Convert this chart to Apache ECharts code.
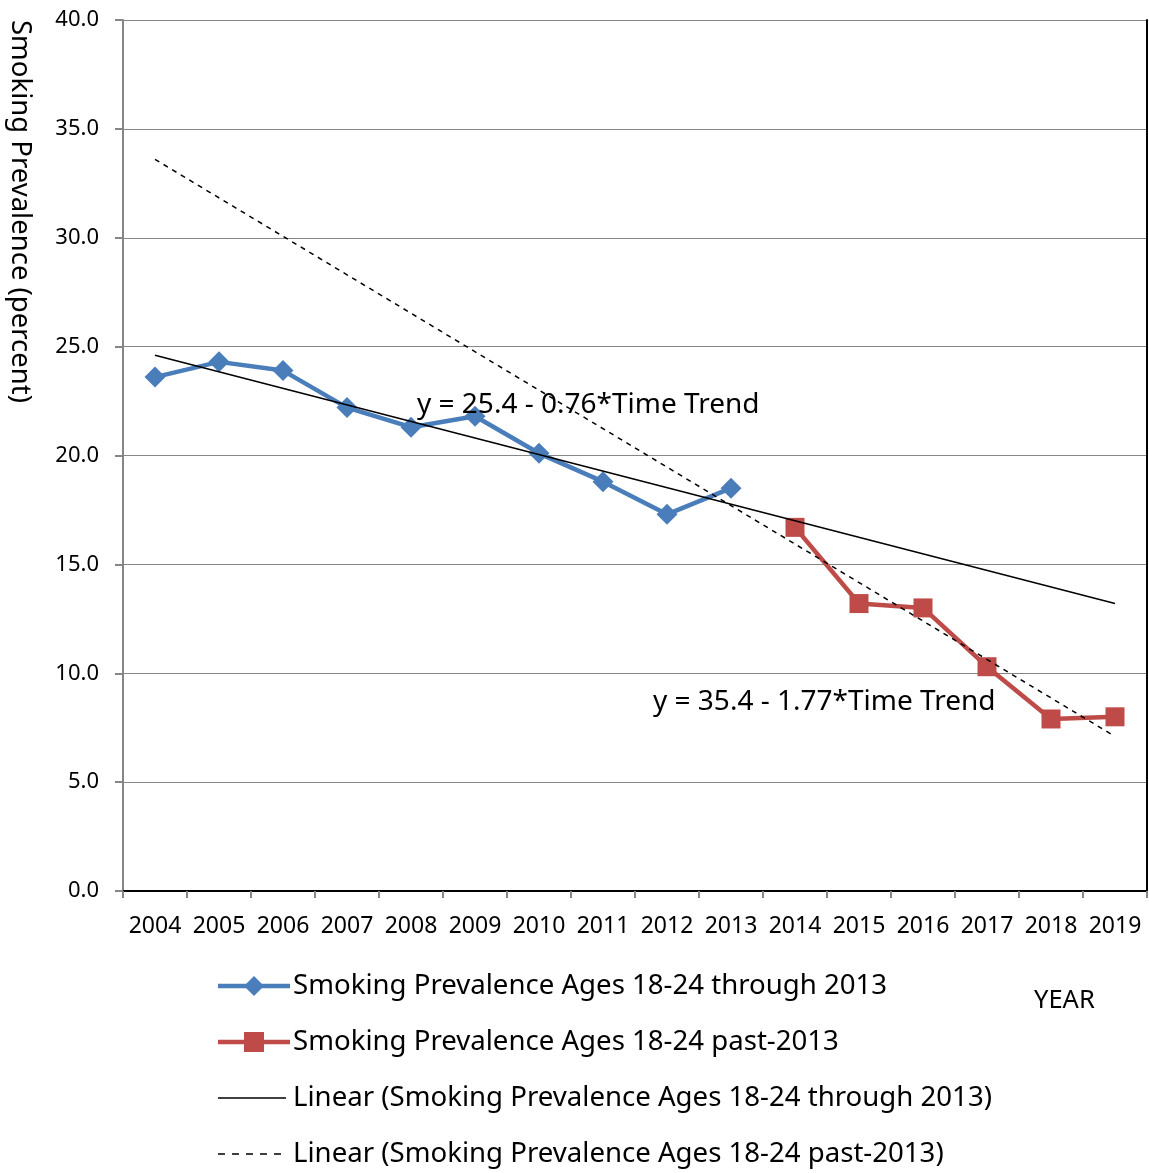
<!DOCTYPE html>
<html>
<head>
<meta charset="utf-8">
<script src="https://cdn.jsdelivr.net/npm/echarts@6/dist/echarts.min.js"></script>
<style>html,body{margin:0;padding:0;background:#fff;}#c{width:1149px;height:1173px;}</style>
</head>
<body>
<div id="c"></div>
<script>
const years = ['2004','2005','2006','2007','2008','2009','2010','2011','2012','2013','2014','2015','2016','2017','2018','2019'];
const through2013 = [23.6, 24.3, 23.9, 22.2, 21.3, 21.8, 20.1, 18.8, 17.3, 18.5, null, null, null, null, null, null];
const past2013 = [null, null, null, null, null, null, null, null, null, null, 16.7, 13.2, 13.0, 10.3, 7.9, 8.0];
const trendThroughEnds = [24.6, 13.2];   // values at 2004 and 2019
const trendPastEnds = [33.6, 7.1];       // values at 2004 and 2019
const yTicks = [0, 5, 10, 15, 20, 25, 30, 35, 40];
const seriesNames = [
  'Smoking Prevalence Ages 18-24 through 2013',
  'Smoking Prevalence Ages 18-24 past-2013',
  'Linear (Smoking Prevalence Ages 18-24 through 2013)',
  'Linear (Smoking Prevalence Ages 18-24 past-2013)'
];
const eq1 = 'y = 25.4 - 0.76*Time Trend';
const eq2 = 'y = 35.4 - 1.77*Time Trend';
const yTitle = 'Smoking Prevalence (percent)';
const xTitle = 'YEAR';

const BLUE = '#4A7EBB', RED = '#BE4B48';
const FONT = 'Noto Sans';
const chart = echarts.init(document.getElementById('c'), null, {renderer: 'canvas'});
const last = years.length - 1;

// legend built as graphic (icon + text rows)
const legendRows = [986, 1042, 1098, 1154];
const legendGraphics = [];
legendRows.forEach((cy, i) => {
  const x0 = 218, x1 = 290;
  if (i === 0) {
    legendGraphics.push({type: 'line', shape: {x1: x0, y1: cy, x2: x1, y2: cy}, style: {stroke: BLUE, lineWidth: 4.5}});
    legendGraphics.push({type: 'polygon', shape: {points: [[254, cy - 10], [264, cy], [254, cy + 10], [244, cy]]}, style: {fill: BLUE}});
  } else if (i === 1) {
    legendGraphics.push({type: 'line', shape: {x1: x0, y1: cy, x2: x1, y2: cy}, style: {stroke: RED, lineWidth: 4.5}});
    legendGraphics.push({type: 'rect', shape: {x: 244, y: cy - 10, width: 20, height: 20}, style: {fill: RED}});
  } else if (i === 2) {
    legendGraphics.push({type: 'line', shape: {x1: x0, y1: cy, x2: 286, y2: cy}, style: {stroke: '#000', lineWidth: 1.5}});
  } else {
    legendGraphics.push({type: 'line', shape: {x1: x0, y1: cy, x2: 284, y2: cy}, style: {stroke: '#000', lineWidth: 1.5, lineDash: [7, 7]}});
  }
  legendGraphics.push({type: 'text', x: 293, y: cy, style: {text: seriesNames[i], font: '27.6px "Noto Sans"', fill: '#000', textVerticalAlign: 'middle'}});
});

chart.setOption({
  animation: false,
  backgroundColor: '#fff',
  textStyle: {fontFamily: FONT},
  grid: {left: 123, right: 2, top: 20, bottom: 282, containLabel: false},
  xAxis: [{
    type: 'category', data: years, boundaryGap: true,
    axisLine: {lineStyle: {color: '#868686', width: 2}},
    axisTick: {show: true, alignWithLabel: false, length: 7, lineStyle: {color: '#868686', width: 2}},
    axisLabel: {color: '#000', fontSize: 23, fontFamily: FONT, margin: 24, interval: 0},
    splitLine: {show: false}
  }, {
    type: 'category', data: years, position: 'top', boundaryGap: true,
    axisLine: {lineStyle: {color: '#000', width: 2}},
    axisTick: {show: false}, axisLabel: {show: false}, splitLine: {show: false}
  }],
  yAxis: [{
    type: 'value', min: yTicks[0], max: yTicks[yTicks.length - 1], interval: 5,
    axisLine: {show: true, lineStyle: {color: '#868686', width: 2}},
    axisTick: {show: true, length: 8, lineStyle: {color: '#868686', width: 2}},
    axisLabel: {color: '#000', fontSize: 22, fontFamily: FONT, margin: 24, formatter: v => v.toFixed(1)},
    splitLine: {show: true, lineStyle: {color: '#868686', width: 1}}
  }, {
    type: 'value', min: 0, max: 40, interval: 5, position: 'right',
    axisLine: {show: true, lineStyle: {color: '#000', width: 2}},
    axisTick: {show: false}, axisLabel: {show: false}, splitLine: {show: false}
  }],
  series: [{
    name: seriesNames[0], type: 'line', data: through2013,
    symbol: 'diamond', symbolSize: 21,
    lineStyle: {color: BLUE, width: 4.5}, itemStyle: {color: BLUE}, z: 3
  }, {
    name: seriesNames[1], type: 'line', data: past2013,
    symbol: 'rect', symbolSize: 19,
    lineStyle: {color: RED, width: 4.5}, itemStyle: {color: RED}, z: 3
  }, {
    name: seriesNames[2], type: 'line',
    data: [[0, trendThroughEnds[0]], [last, trendThroughEnds[1]]],
    symbol: 'none', lineStyle: {color: '#000', width: 1.5}, z: 4
  }, {
    name: seriesNames[3], type: 'line',
    data: [[0, trendPastEnds[0]], [last, trendPastEnds[1]]],
    symbol: 'none', lineStyle: {color: '#000', width: 1.5, type: [5, 5]}, z: 4
  }],
  graphic: legendGraphics.concat([
    {type: 'text', x: 417, y: 405, z: 10, style: {text: eq1, font: '28px "Noto Sans"', fill: '#000', textVerticalAlign: 'middle'}},
    {type: 'text', x: 653, y: 702, z: 10, style: {text: eq2, font: '28px "Noto Sans"', fill: '#000', textVerticalAlign: 'middle'}},
    {type: 'text', x: 1034, y: 1001, style: {text: xTitle, font: '25.5px "Noto Sans"', fill: '#000', textVerticalAlign: 'middle'}},
    {type: 'text', x: 20, y: 20, rotation: -Math.PI / 2, style: {text: yTitle, font: '27.5px "Noto Sans"', fill: '#000', textAlign: 'left', textVerticalAlign: 'middle'}}
  ])
});
</script>
</body>
</html>
